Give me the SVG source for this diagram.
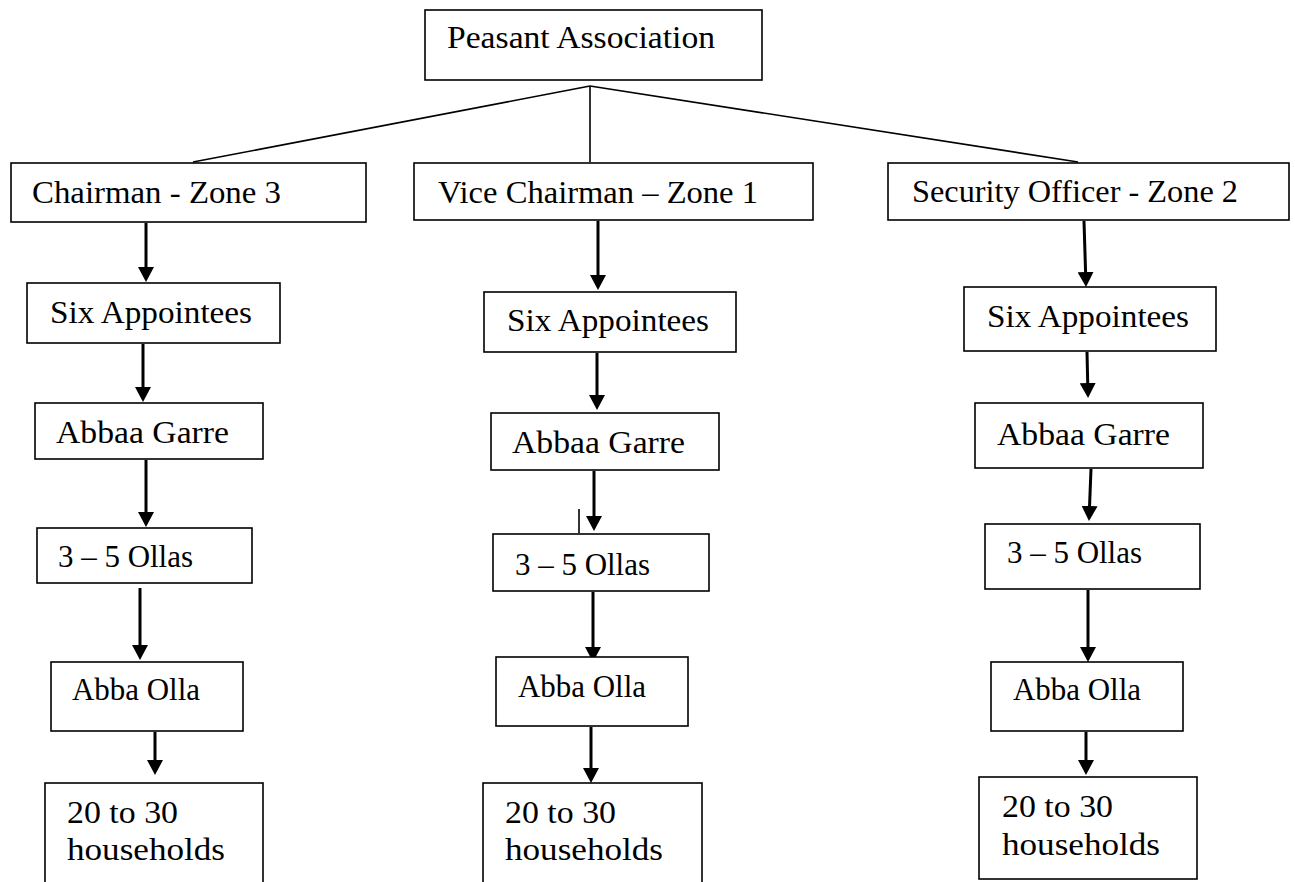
<svg xmlns="http://www.w3.org/2000/svg" width="1295" height="882" viewBox="0 0 1295 882">
<style>
.box{fill:#fff;stroke:#000;stroke-width:1.6}
.t{font-family:"Liberation Serif","Times New Roman",serif;font-size:32px;fill:#000}
.ln{stroke:#000;stroke-width:1.6;fill:none}
.ar{stroke:#000;stroke-width:3;fill:none;marker-end:url(#ah)}
</style>
<defs>
<marker id="ah" markerUnits="userSpaceOnUse" markerWidth="16" markerHeight="16" refX="4" refY="8" orient="auto" viewBox="0 0 16 16">
<path d="M0,0 L15,8 L0,16 z" fill="#000"/>
</marker>
</defs>
<rect width="1295" height="882" fill="#fff"/>
<g id="connectors">
<line class="ln" x1="590" y1="86" x2="193" y2="162"/>
<line class="ln" x1="590" y1="86" x2="590" y2="162"/>
<line class="ln" x1="590" y1="86" x2="1078" y2="162"/>
<line class="ln" x1="579" y1="509" x2="579" y2="533"/>
<line class="ar" x1="146" y1="223" x2="146" y2="271"/>
<line class="ar" x1="143" y1="344" x2="143" y2="391"/>
<line class="ar" x1="146" y1="460" x2="146" y2="516"/>
<line class="ar" x1="140" y1="588" x2="140" y2="649"/>
<line class="ar" x1="155" y1="732" x2="155" y2="764"/>
<line class="ar" x1="598" y1="221" x2="598" y2="279"/>
<line class="ar" x1="597" y1="353" x2="597" y2="399"/>
<line class="ar" x1="594" y1="471" x2="594" y2="520"/>
<line class="ar" x1="593" y1="592" x2="593" y2="651"/>
<line class="ar" x1="591" y1="727" x2="591" y2="772"/>
<line class="ar" x1="1084" y1="221" x2="1085.7" y2="276"/>
<line class="ar" x1="1087" y1="352" x2="1087.8" y2="387"/>
<line class="ar" x1="1091" y1="469" x2="1089.4" y2="510"/>
<line class="ar" x1="1088" y1="590" x2="1088" y2="651"/>
<line class="ar" x1="1086" y1="732" x2="1086" y2="764"/>
</g>
<g id="peasant-association">
<rect class="box" x="425" y="10" width="337" height="70"/>
<text class="t" x="447" y="48" textLength="268" lengthAdjust="spacingAndGlyphs">Peasant Association</text>
</g>
<g id="chairman">
<rect class="box" x="11" y="163" width="355" height="59"/>
<text class="t" x="32" y="203" textLength="249" lengthAdjust="spacingAndGlyphs">Chairman - Zone 3</text>
</g>
<g id="vice-chairman">
<rect class="box" x="414" y="163" width="399" height="57"/>
<text class="t" x="438" y="203" textLength="320" lengthAdjust="spacingAndGlyphs">Vice Chairman – Zone 1</text>
</g>
<g id="security-officer">
<rect class="box" x="888" y="163" width="401" height="57"/>
<text class="t" x="912" y="202" textLength="326" lengthAdjust="spacingAndGlyphs">Security Officer - Zone 2</text>
</g>
<g id="six-appointees-1">
<rect class="box" x="27" y="283" width="253" height="60"/>
<text class="t" x="50" y="323" textLength="202" lengthAdjust="spacingAndGlyphs">Six Appointees</text>
</g>
<g id="six-appointees-2">
<rect class="box" x="484" y="292" width="252" height="60"/>
<text class="t" x="507" y="331" textLength="202" lengthAdjust="spacingAndGlyphs">Six Appointees</text>
</g>
<g id="six-appointees-3">
<rect class="box" x="964" y="287" width="252" height="64"/>
<text class="t" x="987" y="327" textLength="202" lengthAdjust="spacingAndGlyphs">Six Appointees</text>
</g>
<g id="abbaa-garre-1">
<rect class="box" x="35" y="403" width="228" height="56"/>
<text class="t" x="56" y="443" textLength="173" lengthAdjust="spacingAndGlyphs">Abbaa Garre</text>
</g>
<g id="abbaa-garre-2">
<rect class="box" x="491" y="413" width="228" height="57"/>
<text class="t" x="512" y="453" textLength="173" lengthAdjust="spacingAndGlyphs">Abbaa Garre</text>
</g>
<g id="abbaa-garre-3">
<rect class="box" x="975" y="403" width="228" height="65"/>
<text class="t" x="997" y="445" textLength="173" lengthAdjust="spacingAndGlyphs">Abbaa Garre</text>
</g>
<g id="ollas-1">
<rect class="box" x="37" y="528" width="215" height="55"/>
<text class="t" x="58" y="567" textLength="135" lengthAdjust="spacingAndGlyphs">3 – 5 Ollas</text>
</g>
<g id="ollas-2">
<rect class="box" x="493" y="534" width="216" height="57"/>
<text class="t" x="515" y="575" textLength="135" lengthAdjust="spacingAndGlyphs">3 – 5 Ollas</text>
</g>
<g id="ollas-3">
<rect class="box" x="985" y="524" width="215" height="65"/>
<text class="t" x="1007" y="563" textLength="135" lengthAdjust="spacingAndGlyphs">3 – 5 Ollas</text>
</g>
<g id="abba-olla-1">
<rect class="box" x="51" y="662" width="192" height="69"/>
<text class="t" x="72" y="700" textLength="128" lengthAdjust="spacingAndGlyphs">Abba Olla</text>
</g>
<g id="abba-olla-2">
<rect class="box" x="496" y="657" width="192" height="69"/>
<text class="t" x="518" y="697" textLength="128" lengthAdjust="spacingAndGlyphs">Abba Olla</text>
</g>
<g id="abba-olla-3">
<rect class="box" x="991" y="662" width="192" height="69"/>
<text class="t" x="1013" y="700" textLength="128" lengthAdjust="spacingAndGlyphs">Abba Olla</text>
</g>
<g id="households-1">
<rect class="box" x="45" y="783" width="218" height="110"/>
<text class="t" x="67" y="823" textLength="111" lengthAdjust="spacingAndGlyphs">20 to 30</text>
<text class="t" x="67" y="860" textLength="158" lengthAdjust="spacingAndGlyphs">households</text>
</g>
<g id="households-2">
<rect class="box" x="483" y="783" width="219" height="110"/>
<text class="t" x="505" y="823" textLength="111" lengthAdjust="spacingAndGlyphs">20 to 30</text>
<text class="t" x="505" y="860" textLength="158" lengthAdjust="spacingAndGlyphs">households</text>
</g>
<g id="households-3">
<rect class="box" x="979" y="777" width="218" height="102"/>
<text class="t" x="1002" y="817" textLength="111" lengthAdjust="spacingAndGlyphs">20 to 30</text>
<text class="t" x="1002" y="855" textLength="158" lengthAdjust="spacingAndGlyphs">households</text>
</g>
</svg>
